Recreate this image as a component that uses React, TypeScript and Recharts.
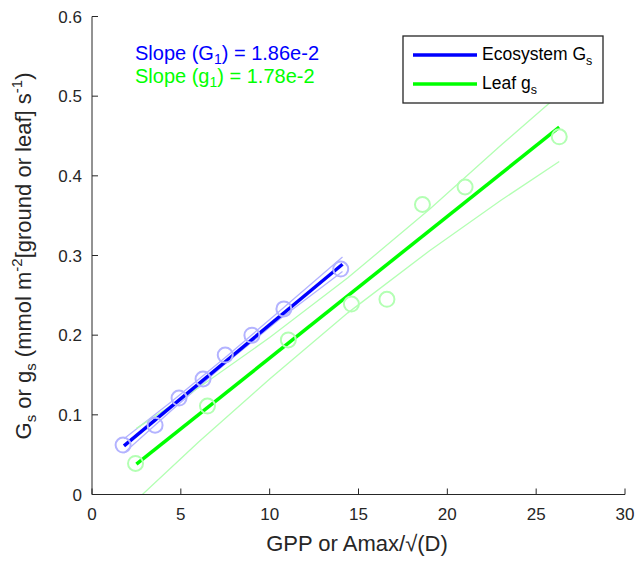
import { ComposedChart, Line, Scatter, XAxis, YAxis } from "recharts";

// observed points
const ecoX = [1.75, 3.55, 4.9, 6.25, 7.5, 9.0, 10.8, 14.0];
const ecoY = [0.062, 0.087, 0.121, 0.145, 0.175, 0.2, 0.233, 0.283];
const leafX = [2.45, 6.5, 11.05, 14.6, 16.6, 18.6, 21.0, 26.3];
const leafY = [0.039, 0.111, 0.194, 0.239, 0.245, 0.364, 0.386, 0.449];

// fitted lines
const ecoFitX = [1.8, 14.1];
const ecoFitY = [0.061, 0.289];
const leafFitX = [2.5, 26.3];
const leafFitY = [0.038, 0.461];

// confidence bands
const ecoBandX = [1.8, 4.5, 7.5, 10.5, 14.1];
const ecoUpper = [0.07, 0.117, 0.172, 0.229, 0.298];
const ecoLower = [0.052, 0.106, 0.164, 0.219, 0.28];
const leafBandX = [2.5, 6, 10, 14.4, 19, 23, 26.3];
const leafUpper = [0.083, 0.134, 0.197, 0.272, 0.358, 0.438, 0.502];
const leafLower = [-0.007, 0.066, 0.145, 0.228, 0.306, 0.369, 0.418];

const xTicks = [0, 5, 10, 15, 20, 25, 30];
const yTicks = [0, 0.1, 0.2, 0.3, 0.4, 0.5, 0.6];

const zip = (xs: number[], ys: number[]) => xs.map((x, i) => ({ x, y: ys[i] }));

const BLUE = "#0000ff";
const GREEN = "#00ff00";
const LIGHT_BLUE = "#b3b3ff";
const LIGHT_GREEN = "#b3ffb3";
const AXIS = "#262626";
const FONT = "'Liberation Sans', Arial, sans-serif";

const ring = (color: string) => (p: any) => (
  <circle cx={p.cx} cy={p.cy} r={7.5} fill="none" stroke={color} strokeWidth={2} />
);

export default function App() {
  const tick = { fill: AXIS, fontSize: 17, fontFamily: FONT };
  return (
    <div style={{ position: "absolute", left: 0, top: 0, width: 636, height: 561, background: "#fff" }}>
      <ComposedChart width={636} height={561} margin={{ top: 16.5, right: 11, bottom: 0, left: 0 }}>
        <XAxis
          dataKey="x"
          type="number"
          domain={[0, 30]}
          ticks={xTicks}
          height={66.5}
          stroke={AXIS}
          tickSize={-6}
          tickMargin={19}
          tick={tick}
          allowDataOverflow
        />
        <YAxis
          type="number"
          domain={[0, 0.6]}
          ticks={yTicks}
          width={92}
          stroke={AXIS}
          tickSize={-6}
          tickMargin={16}
          tick={tick}
          tickFormatter={(v) => String(v)}
          allowDataOverflow
        />
        <Line data={zip(ecoBandX, ecoUpper)} dataKey="y" type="linear" stroke={LIGHT_BLUE} strokeWidth={1.3} dot={false} isAnimationActive={false} />
        <Line data={zip(ecoBandX, ecoLower)} dataKey="y" type="linear" stroke={LIGHT_BLUE} strokeWidth={1.3} dot={false} isAnimationActive={false} />
        <Scatter data={zip(ecoX, ecoY)} dataKey="y" shape={ring(LIGHT_BLUE)} isAnimationActive={false} />
        <Line data={zip(leafBandX, leafUpper)} dataKey="y" type="linear" stroke={LIGHT_GREEN} strokeWidth={1.3} dot={false} isAnimationActive={false} />
        <Line data={zip(leafBandX, leafLower)} dataKey="y" type="linear" stroke={LIGHT_GREEN} strokeWidth={1.3} dot={false} isAnimationActive={false} />
        <Scatter data={zip(leafX, leafY)} dataKey="y" shape={ring(LIGHT_GREEN)} isAnimationActive={false} />
        <Line data={zip(ecoFitX, ecoFitY)} dataKey="y" type="linear" stroke={BLUE} strokeWidth={3.5} dot={false} isAnimationActive={false} />
        <Line data={zip(leafFitX, leafFitY)} dataKey="y" type="linear" stroke={GREEN} strokeWidth={3.5} dot={false} isAnimationActive={false} />
      </ComposedChart>
      <svg width={636} height={561} style={{ position: "absolute", left: 0, top: 0, pointerEvents: "none" }} fontFamily={FONT}>
        {/* y axis label */}
        <text transform="translate(31,256) rotate(-90)" textAnchor="middle" fontSize={22} fill={AXIS}>
          G<tspan fontSize={15} dy={5}>s</tspan>
          <tspan dy={-5}> or g</tspan>
          <tspan fontSize={15} dy={5}>s</tspan>
          <tspan dy={-5}> (mmol m</tspan>
          <tspan fontSize={15} dy={-9}>-2</tspan>
          <tspan dy={9}>[ground or leaf] s</tspan>
          <tspan fontSize={15} dy={-9}>-1</tspan>
          <tspan dy={9}>)</tspan>
        </text>
        {/* x axis label */}
        <text x={357} y={551} textAnchor="middle" fontSize={22} fill={AXIS}>
          GPP or Amax/√(D)
        </text>
        {/* slopes */}
        <text x={135} y={60} fontSize={20} fill={BLUE}>
          Slope (G<tspan fontSize={14} dy={4}>1</tspan>
          <tspan dy={-4}>) = 1.86e-2</tspan>
        </text>
        <text x={135} y={83} fontSize={20} fill={GREEN}>
          Slope (g<tspan fontSize={14} dy={4}>1</tspan>
          <tspan dy={-4}>) = 1.78e-2</tspan>
        </text>
        {/* legend */}
        <rect x={403} y={36} width={200} height={67} fill="#fff" stroke={AXIS} strokeWidth={1.3} />
        <line x1={413} x2={477} y1={55} y2={55} stroke={BLUE} strokeWidth={3.5} />
        <line x1={413} x2={477} y1={84} y2={84} stroke={GREEN} strokeWidth={3.5} />
        <text x={482} y={60} fontSize={17.5} fill="#000">
          Ecosystem G<tspan fontSize={12.5} dy={5}>s</tspan>
        </text>
        <text x={482} y={89} fontSize={17.5} fill="#000">
          Leaf g<tspan fontSize={12.5} dy={5}>s</tspan>
        </text>
      </svg>
    </div>
  );
}
